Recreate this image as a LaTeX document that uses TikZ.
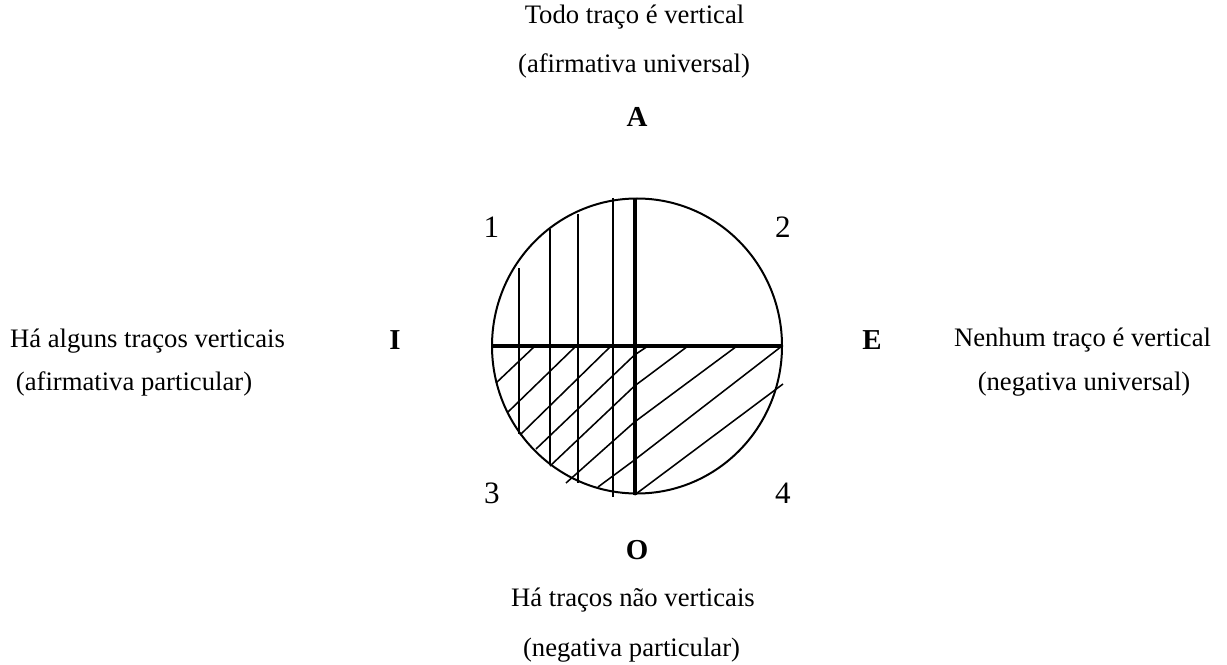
\documentclass[tikz,border=0pt]{standalone}
\usepackage{fontspec}
\setmainfont{Liberation Serif}
\usepackage{xcolor}
\definecolor{cInk}{HTML}{000000}
\usepackage{tikz}
\usetikzlibrary{positioning,calc}
\tikzset{
  node-text/.style={inner sep=0pt,text=cInk,font=\fontsize{12}{14}\selectfont},
  node-letter/.style={inner sep=0pt,text=cInk,font=\fontsize{13}{15}\selectfont\bfseries},
  node-num/.style={inner sep=0pt,text=cInk,font=\fontsize{14}{16}\selectfont},
  line-rim/.style={draw=cInk,line width=0.9pt},
  line-axis/.style={draw=cInk,line width=1.8pt},
  line-hatch/.style={draw=cInk,line width=0.7pt},
}

\begin{document}
\begin{tikzpicture}[x=0.45pt,y=-0.45pt]
  \useasboundingbox (0,0) rectangle (1227,664);
  % circle
  \coordinate (c) at (637,346);
  \draw[line-rim] (c) ellipse [x radius=145,y radius=147.5];
  % vertical strokes (1 and 3)
  \foreach \x/\ya/\yb in {519/268/434, 550/229/465, 578/214/483, 613/198/497}
    \draw[line-hatch] (\x,\ya) -- (\x,\yb);
  % oblique strokes (3 and 4)
  \draw[line-hatch] (535,346) -- (496,383);
  \draw[line-hatch] (576,346) -- (508,412);
  \draw[line-hatch] (611,346) -- (520,435);
  \draw[line-hatch] (648,346) -- (634.5,355) -- (536,449);
  \draw[line-hatch] (688,346) -- (634.5,386) -- (550,466);
  \draw[line-hatch] (737,346) -- (634.5,422) -- (566,483);
  \draw[line-hatch] (782,346) -- (634.5,460) -- (598,487);
  \draw[line-hatch] (783,384) -- (634.5,495);
  % axes
  \draw[line-axis] (492.5,345.5) -- (782,345.5);
  \draw[line-axis] (634.5,199) -- (634.5,495);
  % quadrant numbers
  \node[node-num] (n1) at (491.5,227) {1};
  \node[node-num] (n2) at (783,227) {2};
  \node[node-num] (n3) at (492,493) {3};
  \node[node-num] (n4) at (783,493) {4};
  % letters
  \node[node-letter] (lA) at (637,117) {A};
  \node[node-letter] (lE) at (872,340) {E};
  \node[node-letter] (lI) at (395,340) {I};
  \node[node-letter] (lO) at (637,550) {O};
  % propositions
  \node[node-text] (tA1) at (634.5,17) {Todo traço é vertical};
  \node[node-text] (tA2) at (634,66) {(afirmativa universal)};
  \node[node-text] (tI1) at (147.5,341) {Há alguns traços verticais};
  \node[node-text] (tI2) at (134,384) {(afirmativa particular)};
  \node[node-text] (tE1) at (1082.5,340) {Nenhum traço é vertical};
  \node[node-text] (tE2) at (1084,384) {(negativa universal)};
  \node[node-text] (tO1) at (633,600) {Há traços não verticais};
  \node[node-text] (tO2) at (631.5,650) {(negativa particular)};
\end{tikzpicture}
\end{document}
